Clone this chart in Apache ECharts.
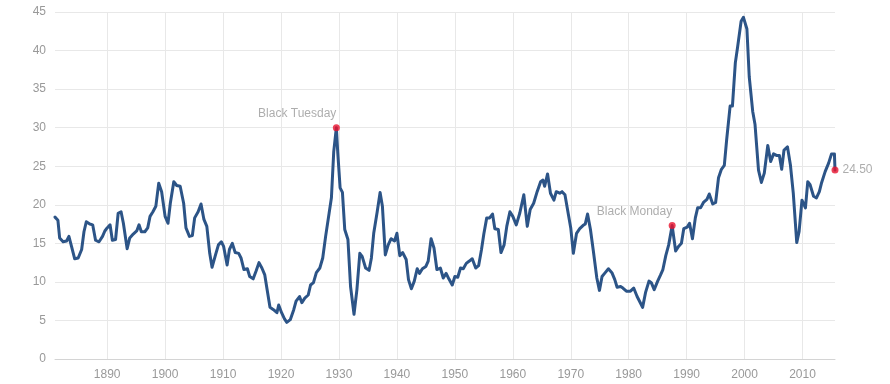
<!DOCTYPE html>
<html>
<head>
<meta charset="utf-8">
<script src="https://cdn.jsdelivr.net/npm/echarts@6/dist/echarts.min.js"></script>
<style>
html,body{margin:0;padding:0;background:#fff;}
#chart{width:890px;height:384px;}
</style>
</head>
<body>
<div id="chart"></div>
<script>
const years = [
1881.0,1881.5,1881.8,1882.4,1883.0,1883.4,1883.85,1884.4,1885.0,1885.6,1886.0,1886.4,1887.0,1887.5,1888.0,1888.6,1889.2,1889.6,
1890.0,1890.5,1890.9,1891.45,1891.9,1892.4,1892.8,1893.45,1893.9,1894.5,1895.1,1895.5,1895.9,1896.5,1897.0,1897.4,1897.9,1898.4,1898.9,1899.4,
1900.0,1900.5,1900.9,1901.5,1902.0,1902.6,1903.2,1903.6,1904.2,1904.7,1905.1,1905.7,1906.2,1906.7,1907.2,1907.7,1908.1,1908.7,1909.2,1909.7,
1910.1,1910.7,1911.1,1911.6,1912.1,1912.7,1913.1,1913.6,1914.2,1914.6,1915.2,1915.7,1916.2,1916.7,1917.2,1917.6,1918.1,1918.7,1919.3,1919.6,
1920.1,1920.6,1921.0,1921.6,1922.2,1922.6,1923.2,1923.6,1924.1,1924.7,1925.1,1925.6,1926.1,1926.7,1927.2,1927.7,1928.3,1928.7,1929.1,1929.55,1929.8,
1930.2,1930.6,1931.0,1931.55,1932.0,1932.6,1933.1,1933.6,1934.0,1934.6,1935.2,1935.6,1936.0,1936.6,1937.1,1937.5,1938.0,1938.5,1939.0,1939.6,
1940.0,1940.5,1941.0,1941.6,1942.0,1942.5,1943.0,1943.5,1943.9,1944.4,1945.0,1945.4,1945.9,1946.4,1946.9,1947.5,1948.0,1948.5,1948.96,1949.55,
1950.0,1950.5,1950.98,1951.45,1951.97,1952.5,1953.0,1953.6,1954.1,1954.6,1955.0,1955.5,1956.0,1956.5,1956.9,1957.5,1957.96,1958.5,1958.96,1959.5,
1960.0,1960.6,1961.2,1961.9,1962.5,1963.0,1963.6,1964.2,1964.8,1965.2,1965.5,1966.0,1966.5,1967.1,1967.5,1968.1,1968.5,1969.0,1969.6,
1970.0,1970.45,1971.0,1971.55,1972.1,1972.5,1972.9,1973.4,1973.9,1974.5,1974.95,1975.4,1975.95,1976.5,1977.1,1977.6,1978.0,1978.6,1979.0,1979.6,
1980.3,1980.86,1981.45,1982.0,1982.4,1982.9,1983.5,1983.9,1984.4,1985.0,1985.5,1985.9,1986.4,1986.9,1987.5,1988.1,1988.6,1989.1,1989.5,
1990.1,1990.5,1991.0,1991.5,1991.9,1992.4,1992.9,1993.5,1993.9,1994.5,1995.0,1995.5,1996.0,1996.5,1996.9,1997.5,1997.9,1998.4,1998.8,1999.4,1999.8,
2000.4,2000.8,2001.4,2001.8,2002.4,2002.9,2003.4,2004.0,2004.5,2005.0,2005.5,2006.0,2006.4,2006.8,2007.4,2007.9,2008.4,2009.0,2009.4,2009.9,
2010.5,2010.9,2011.3,2011.9,2012.4,2012.9,2013.3,2013.9,2014.5,2015.0,2015.5,2015.6
];
const peValues = [
18.4,18.0,15.7,15.2,15.3,15.9,14.6,13.0,13.1,14.2,16.5,17.8,17.5,17.4,15.4,15.2,15.9,16.6,
17.0,17.4,15.4,15.5,18.9,19.1,17.6,14.3,15.7,16.2,16.6,17.4,16.5,16.5,17.0,18.5,19.1,19.8,22.8,21.7,
18.5,17.6,20.2,23.0,22.5,22.4,20.2,17.0,15.9,16.0,18.3,19.1,20.1,18.1,17.2,13.7,11.9,13.5,14.8,15.2,
14.6,12.2,14.2,15.0,13.8,13.7,13.1,11.6,11.7,10.7,10.4,11.4,12.5,11.8,10.9,9.0,6.7,6.4,6.0,7.0,
6.0,5.2,4.75,5.1,6.4,7.5,8.1,7.3,7.9,8.3,9.6,9.9,11.2,11.8,13.1,15.9,18.9,20.9,26.9,30.0,26.7,
22.2,21.6,16.8,15.5,9.4,5.8,9.0,13.7,13.3,11.8,11.5,13.1,16.3,19.1,21.6,19.8,13.5,14.8,15.6,15.3,
16.3,13.4,13.8,12.9,10.3,9.1,10.1,11.7,11.1,11.7,12.0,12.7,15.6,14.4,11.6,11.8,10.5,11.1,10.4,9.6,
10.7,10.6,11.8,11.7,12.4,12.7,13.0,11.8,12.1,14.2,16.2,18.3,18.3,18.8,16.9,16.8,13.8,14.8,17.2,19.1,
18.5,17.4,18.9,21.3,17.2,19.4,20.2,21.7,23.0,23.2,22.4,24.0,21.5,20.6,21.7,21.5,21.7,21.3,18.7,
17.0,13.7,16.3,16.9,17.3,17.5,18.8,16.8,14.0,10.5,8.9,10.7,11.2,11.7,11.2,10.3,9.3,9.4,9.2,8.8,
8.8,9.2,8.1,7.3,6.7,8.6,10.1,9.9,9.0,10.1,10.9,11.6,13.4,14.8,17.3,14.0,14.6,15.0,16.9,
17.1,17.6,15.6,18.3,19.6,19.6,20.3,20.7,21.4,20.1,20.3,23.5,24.6,25.1,28.4,32.8,32.8,38.4,40.5,43.8,44.3,
42.8,36.6,32.1,30.4,24.5,22.9,24.1,27.7,25.6,26.6,26.4,26.4,24.6,27.1,27.5,25.2,21.5,15.1,16.5,20.6,
19.6,23.0,22.6,21.1,20.9,21.7,22.9,24.3,25.4,26.6,26.6,24.5
];
const yTicks = [0,5,10,15,20,25,30,35,40,45];
const annoYears = [1929.55, 1987.5, 2015.6];
const annoValues = [30.0, 17.3, 24.5];
const annoLabels = ['Black Tuesday', 'Black Monday', '24.50'];
const annoSides = ['topleft', 'topleft', 'right'];

const chart = echarts.init(document.getElementById('chart'), null, {renderer: 'canvas'});
const lineData = years.map((y, i) => [y, peValues[i]]);
const annoData = annoYears.map((y, i) => {
  const side = annoSides[i];
  const label = side === 'right'
    ? {show: true, position: 'right', distance: 4, formatter: annoLabels[i]}
    : {show: true, position: 'top', align: 'right', distance: 4, offset: [0, 0], formatter: annoLabels[i]};
  return {value: [y, annoValues[i]], label: label};
});
const FONT = '"Liberation Sans", Arial, sans-serif';
chart.setOption({
  animation: false,
  backgroundColor: '#ffffff',
  grid: {left: 55, right: 55, top: 12, bottom: 25, containLabel: false},
  xAxis: {
    type: 'value',
    min: years[0],
    max: years[years.length - 1],
    minInterval: 10,
    maxInterval: 10,
    splitNumber: 13,
    axisLine: {show: true, lineStyle: {color: '#d4d4d4', width: 1}},
    axisTick: {show: false},
    axisLabel: {
      color: '#999999', fontSize: 12, fontFamily: FONT, margin: 10,
      showMinLabel: false, showMaxLabel: false,
      formatter: v => (Math.abs(v % 10) < 1e-6 ? String(v) : '')
    },
    splitLine: {show: true, showMinLine: false, showMaxLine: false, lineStyle: {color: '#e8e8e8', width: 1}}
  },
  yAxis: {
    type: 'value',
    min: yTicks[0],
    max: yTicks[yTicks.length - 1],
    interval: yTicks[1] - yTicks[0],
    axisLine: {show: false},
    axisTick: {show: false},
    axisLabel: {color: '#999999', fontSize: 12, fontFamily: FONT, margin: 9},
    splitLine: {show: true, lineStyle: {color: '#e8e8e8', width: 1}}
  },
  series: [
    {
      type: 'line',
      data: lineData,
      showSymbol: false,
      symbol: 'none',
      lineStyle: {color: '#2c5487', width: 3, join: 'round', cap: 'round'},
      z: 2
    },
    {
      type: 'scatter',
      data: annoData,
      symbol: 'circle',
      symbolSize: 7,
      itemStyle: {color: '#e8112d'},
      label: {color: '#999999', fontSize: 12, fontFamily: FONT},
      z: 3
    }
  ]
});
</script>
</body>
</html>
